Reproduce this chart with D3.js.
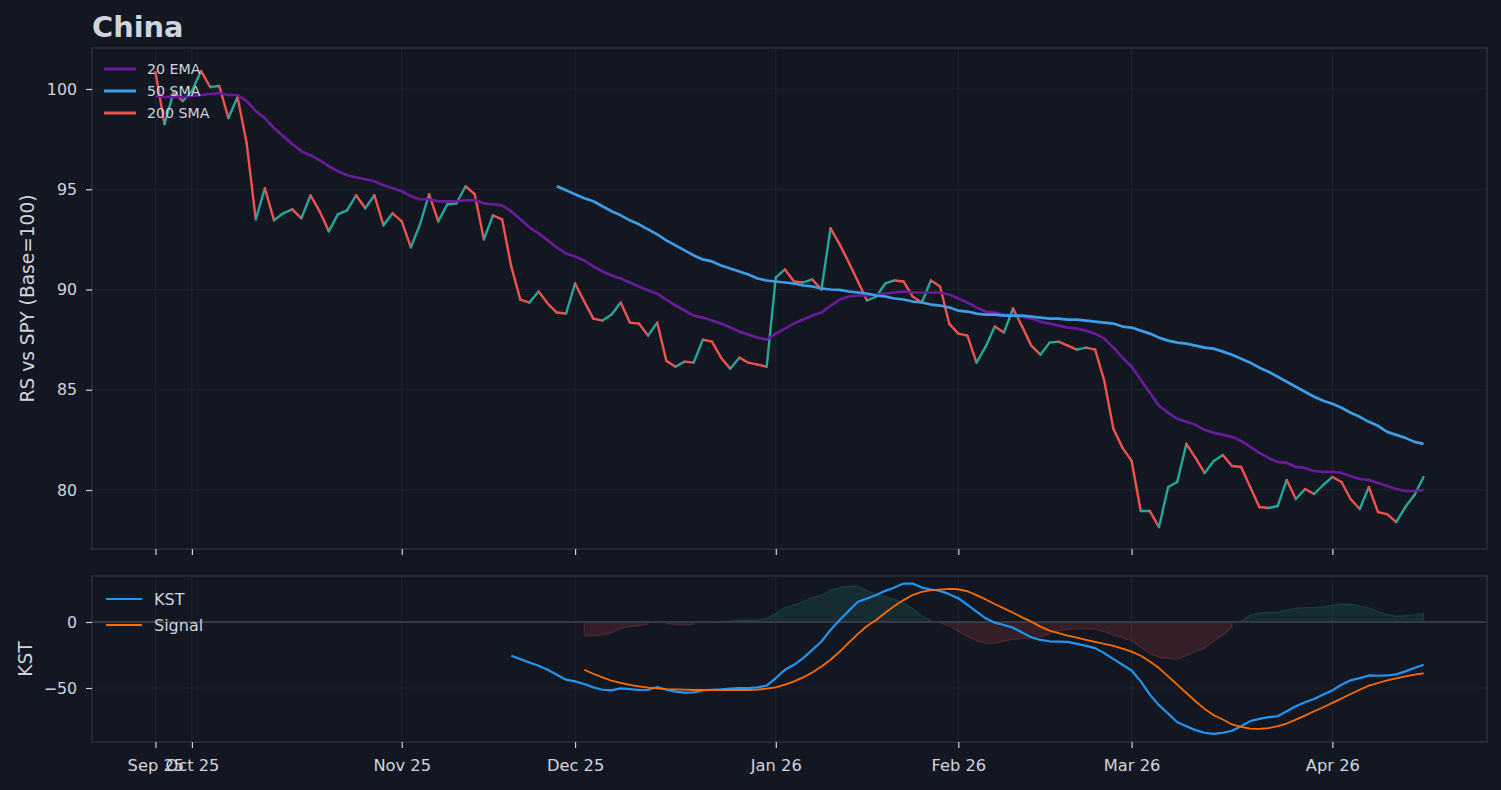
<!DOCTYPE html>
<html><head><meta charset="utf-8">
<script src="https://cdn.jsdelivr.net/npm/d3@7"></script>
<style>html,body{margin:0;padding:0;background:#131722;} svg{display:block;font-family:"DejaVu Sans",sans-serif;}</style>
</head><body><svg id="c" width="1501" height="790"></svg>
<script>
// ---------- data ----------
const tickIndex = [0, 4, 27, 46, 68, 88, 107, 129];
const tickLabels = ["Sep 25", "Oct 25", "Nov 25", "Dec 25", "Jan 26", "Feb 26", "Mar 26", "Apr 26"];
const rsTicks = [80, 85, 90, 95, 100];
const kstTicks = [-50, 0];

const rs = [
100.85,98.25,99.85,99.4,99.9,100.9,100.1,100.15,98.55,99.6,
97.3,93.5,95.05,93.45,93.8,94.0,93.55,94.7,93.9,92.9,
93.75,93.95,94.7,94.05,94.7,93.2,93.8,93.4,92.1,93.25,
94.75,93.4,94.25,94.3,95.15,94.75,92.5,93.7,93.5,91.15,
89.5,89.35,89.9,89.3,88.85,88.8,90.3,89.4,88.55,88.45,
88.75,89.35,88.35,88.3,87.7,88.35,86.45,86.15,86.4,86.35,
87.5,87.4,86.6,86.05,86.6,86.35,86.25,86.15,90.6,91.0,
90.4,90.35,90.5,90.0,93.05,92.25,91.35,90.4,89.45,89.65,
90.3,90.45,90.4,89.65,89.35,90.45,90.15,88.3,87.8,87.7,
86.35,87.15,88.15,87.85,89.05,88.15,87.2,86.75,87.35,87.4,
87.2,87.0,87.1,87.0,85.45,83.05,82.1,81.45,78.95,78.95,
78.15,80.15,80.4,82.3,81.6,80.85,81.45,81.75,81.2,81.15,
80.15,79.15,79.1,79.2,80.5,79.55,80.05,79.8,80.25,80.65,
80.4,79.55,79.05,80.15,78.9,78.8,78.4,79.15,79.75,80.65
];
const ema20 = [
99.65,99.6,99.6,99.6,99.65,99.7,99.75,99.8,99.7,99.7,
99.4,98.9,98.55,98.05,97.65,97.25,96.9,96.7,96.45,96.15,
95.9,95.7,95.6,95.5,95.4,95.2,95.05,94.9,94.65,94.5,
94.5,94.4,94.4,94.4,94.45,94.47,94.3,94.25,94.2,93.9,
93.5,93.1,92.8,92.45,92.1,91.8,91.65,91.45,91.15,90.9,
90.7,90.55,90.35,90.15,89.95,89.8,89.5,89.2,88.95,88.7,
88.6,88.45,88.3,88.1,87.9,87.75,87.6,87.5,87.8,88.05,
88.3,88.5,88.7,88.85,89.2,89.5,89.65,89.7,89.7,89.75,
89.8,89.85,89.9,89.85,89.85,89.85,89.85,89.75,89.55,89.35,
89.1,88.9,88.85,88.75,88.7,88.65,88.55,88.4,88.3,88.2,
88.1,88.05,87.95,87.8,87.55,87.1,86.6,86.15,85.5,84.85,
84.2,83.85,83.55,83.4,83.25,83.0,82.85,82.75,82.65,82.45,
82.15,81.85,81.6,81.4,81.35,81.15,81.1,80.95,80.9,80.9,
80.85,80.7,80.55,80.5,80.35,80.2,80.05,79.95,79.95,80.0
];
const sma50Start = 44;
const sma50 = [
95.15,94.95,94.75,94.55,94.4,94.15,93.9,93.7,93.45,93.25,
93.0,92.75,92.45,92.2,91.95,91.7,91.5,91.4,91.2,91.05,
90.9,90.75,90.55,90.45,90.4,90.35,90.3,90.2,90.15,90.05,
90.0,89.98,89.9,89.85,89.8,89.7,89.65,89.55,89.5,89.4,
89.35,89.25,89.2,89.1,88.95,88.9,88.8,88.75,88.75,88.7,
88.7,88.7,88.65,88.6,88.55,88.55,88.5,88.5,88.45,88.4,
88.35,88.3,88.15,88.1,87.95,87.8,87.6,87.45,87.35,87.3,
87.2,87.1,87.05,86.9,86.75,86.55,86.35,86.1,85.9,85.65,
85.4,85.15,84.9,84.65,84.45,84.3,84.1,83.85,83.65,83.4,
83.2,82.9,82.75,82.6,82.4,82.3
];
const kstStart = 39;
const kst = [
-25.6,-28.1,-30.7,-33.2,-36.2,-40,-43.7,-45,-47,-49.5,
-51.3,-51.8,-50.3,-50.8,-51.5,-51.3,-49.2,-51.3,-52.8,-53.5,
-53.3,-51.8,-51.3,-51.0,-50.5,-50,-50,-49.5,-48.2,-42.5,
-36.2,-32.4,-27.4,-21.1,-14.8,-6.0,1.5,8.5,15.3,17.8,
20.4,23.6,26.1,29.1,29.1,26.1,24.6,23.6,21.1,18,
13,7.8,2.8,-0.5,-2.3,-4.3,-8,-11.6,-13.6,-14.6,
-14.8,-15.1,-16.6,-18.1,-19.8,-23.6,-28.1,-32.4,-36.7,-45,
-55,-63,-69.3,-75.9,-78.9,-81.9,-83.9,-84.7,-83.9,-82.4,
-78.9,-75.1,-73.4,-72.1,-71.4,-67.6,-63.8,-60.8,-58.3,-55,
-51.8,-47.5,-44.2,-42.5,-40.5,-40.7,-40.5,-39.7,-37.4,-34.9,-32.4
];
const signalStart = 47;
const signal = [
-36.2,-39.2,-42,-44.5,-46.2,-47.7,-48.7,-49.7,-50.3,-50.8,
-51,-51.3,-51.5,-51.5,-51.5,-51.5,-51.5,-51.5,-51.5,-51.3,
-50.5,-49.5,-47.5,-45,-42,-38.2,-33.7,-28.6,-22.4,-15.6,
-9,-3,1.5,7,12.1,16.6,20.4,22.9,24.1,24.6,
25.1,24.8,23.3,20.4,17.1,13.6,10.3,7,3.5,0.3,
-3.5,-6.5,-8.5,-10.3,-11.8,-13.6,-15.1,-16.6,-18.1,-20.1,
-22.4,-25.6,-29.9,-34.9,-41.2,-47.5,-53.8,-60,-65.8,-70.6,
-73.9,-77.6,-79.4,-80.7,-80.9,-80.4,-78.9,-76.9,-73.9,-70.9,
-67.6,-64.6,-61.3,-58,-54.5,-51.3,-48.2,-46.2,-44.2,-42.7,
-41.2,-39.9,-38.9
];
const histStart = 47;
const hist = [
-10.6,-10.6,-9.8,-8,-4.8,-3.5,-2.8,-1.5,0.5,-1,
-1.8,-2.3,-1.5,0.2,0.3,0.5,0.8,1.5,1.5,1.5,
2.8,6.5,11,12.8,15.3,18.6,20.4,24.1,26.1,27.1,
27.4,23.6,21.1,19.1,17.1,14.6,10.3,4.5,1,-0.5,
-3,-7,-11,-14.1,-16.3,-16.3,-14.5,-13.2,-12.7,-12.4,
-11,-9,-6.8,-5.5,-5.3,-5.1,-5.5,-7.3,-9.8,-12,
-14.3,-19,-24,-26.8,-27.6,-28.1,-25.5,-22.5,-19.8,-14.5,
-9.8,-4,0.3,5.3,7,7.3,7.5,9,10.5,11,
11,11.6,12.6,13.8,13.6,12.1,10.8,7.8,5.8,4.5,
4.8,5.5,6.5
];
const topLegend = [["20 EMA", "#6a1b9a"], ["50 SMA", "#3d9de6"], ["200 SMA", "#ef5350"]];
const botLegend = [["KST", "#2196f3"], ["Signal", "#ff6d00"]];

// ---------- styling ----------
const BG = "#131722", GRID = "#1f2330", BORDER = "#2a2e39", TXT = "#d1d4dc";
const UP = "#26a69a", DOWN = "#ef5350";
const boxT = {l: 92, r: 1487, t: 48, b: 549};
const boxB = {l: 92, r: 1487, t: 576, b: 742};

const svg = d3.select("#c");
svg.append("rect").attr("width", 1501).attr("height", 790).attr("fill", BG);

const n = rs.length;
const pad = 0.05 * (n - 1);
const x = d3.scaleLinear().domain([-pad, n - 1 + pad]).range([boxT.l, boxT.r]);
const yT = d3.scaleLinear().domain([77.057, 102.045]).range([boxT.b, boxT.t]);
const yB = d3.scaleLinear().domain([-90.9, 34.85]).range([boxB.b, boxB.t]);

const toPts = (arr, start) => arr.map((v, k) => ({i: start + k, v}));

function grid(g, box, yScale, yt) {
  g.selectAll(".vg").data(tickIndex).join("line").attr("class", "vg")
    .attr("x1", d => x(d)).attr("x2", d => x(d)).attr("y1", box.t).attr("y2", box.b)
    .attr("stroke", GRID).attr("stroke-width", 1);
  g.selectAll(".hg").data(yt).join("line").attr("class", "hg")
    .attr("x1", box.l).attr("x2", box.r).attr("y1", d => yScale(d)).attr("y2", d => yScale(d))
    .attr("stroke", GRID).attr("stroke-width", 1);
}

// ---------- top panel ----------
const gT = svg.append("g");
grid(gT.append("g"), boxT, yT, rsTicks);
svg.append("clipPath").attr("id", "clipT").append("rect")
  .attr("x", boxT.l).attr("y", boxT.t).attr("width", boxT.r - boxT.l).attr("height", boxT.b - boxT.t);
const gTd = gT.append("g").attr("clip-path", "url(#clipT)");

const rsPts = toPts(rs, 0);
gTd.selectAll(".seg").data(d3.pairs(rsPts)).join("line").attr("class", "seg")
  .attr("x1", d => x(d[0].i)).attr("y1", d => yT(d[0].v))
  .attr("x2", d => x(d[1].i)).attr("y2", d => yT(d[1].v))
  .attr("stroke", d => d[1].v >= d[0].v ? UP : DOWN)
  .attr("stroke-width", 2.4).attr("stroke-linecap", "round");

const lineT = d3.line().x(d => x(d.i)).y(d => yT(d.v));
gTd.append("path").datum(toPts(ema20, 0)).attr("d", lineT)
  .attr("fill", "none").attr("stroke", topLegend[0][1]).attr("stroke-width", 2.7).attr("stroke-linejoin", "round");
gTd.append("path").datum(toPts(sma50, sma50Start)).attr("d", lineT)
  .attr("fill", "none").attr("stroke", topLegend[1][1]).attr("stroke-width", 2.7).attr("stroke-linejoin", "round");

gT.append("rect").attr("x", boxT.l).attr("y", boxT.t).attr("width", boxT.r - boxT.l).attr("height", boxT.b - boxT.t)
  .attr("fill", "none").attr("stroke", BORDER).attr("stroke-width", 1.6);

const lgT = gT.append("g");
topLegend.forEach((d, k) => {
  const yy = 69 + k * 22;
  lgT.append("line").attr("x1", 104).attr("x2", 136).attr("y1", yy).attr("y2", yy)
    .attr("stroke", d[1]).attr("stroke-width", 3);
  lgT.append("text").attr("x", 147).attr("y", yy).attr("dy", "0.36em")
    .attr("fill", TXT).attr("font-size", 14.2).text(d[0]);
});

const axL = gT.append("g").attr("transform", `translate(${boxT.l},0)`)
  .call(d3.axisLeft(yT).tickValues(rsTicks).tickSize(6).tickPadding(9).tickFormat(d3.format("d")));
const axTB = gT.append("g").attr("transform", `translate(0,${boxT.b})`)
  .call(d3.axisBottom(x).tickValues(tickIndex).tickSize(6).tickFormat(""));

// ---------- bottom panel ----------
const gB = svg.append("g");
grid(gB.append("g"), boxB, yB, kstTicks);
svg.append("clipPath").attr("id", "clipB").append("rect")
  .attr("x", boxB.l).attr("y", boxB.t).attr("width", boxB.r - boxB.l).attr("height", boxB.b - boxB.t);
const gBd = gB.append("g").attr("clip-path", "url(#clipB)");

const histPts = toPts(hist, histStart);
const areaPos = d3.area().defined(d => d.v >= 0).x(d => x(d.i)).y0(yB(0)).y1(d => yB(d.v));
const areaNeg = d3.area().defined(d => d.v < 0).x(d => x(d.i)).y0(yB(0)).y1(d => yB(d.v));
gBd.append("path").datum(histPts).attr("d", areaPos)
  .attr("fill", UP).attr("fill-opacity", 0.15).attr("stroke", UP).attr("stroke-opacity", 0.22).attr("stroke-width", 1.2);
gBd.append("path").datum(histPts).attr("d", areaNeg)
  .attr("fill", DOWN).attr("fill-opacity", 0.15).attr("stroke", DOWN).attr("stroke-opacity", 0.22).attr("stroke-width", 1.2);

gBd.append("line").attr("x1", boxB.l).attr("x2", boxB.r).attr("y1", yB(0)).attr("y2", yB(0))
  .attr("stroke", "#363a45").attr("stroke-width", 1.8);

const lineB = d3.line().x(d => x(d.i)).y(d => yB(d.v));
gBd.append("path").datum(toPts(kst, kstStart)).attr("d", lineB)
  .attr("fill", "none").attr("stroke", botLegend[0][1]).attr("stroke-width", 2.2).attr("stroke-linejoin", "round");
gBd.append("path").datum(toPts(signal, signalStart)).attr("d", lineB)
  .attr("fill", "none").attr("stroke", botLegend[1][1]).attr("stroke-width", 1.8).attr("stroke-linejoin", "round");

gB.append("rect").attr("x", boxB.l).attr("y", boxB.t).attr("width", boxB.r - boxB.l).attr("height", boxB.b - boxB.t)
  .attr("fill", "none").attr("stroke", BORDER).attr("stroke-width", 1.6);

const lgB = gB.append("g");
botLegend.forEach((d, k) => {
  const yy = 599 + k * 26;
  lgB.append("line").attr("x1", 106).attr("x2", 142).attr("y1", yy).attr("y2", yy)
    .attr("stroke", d[1]).attr("stroke-width", 2);
  lgB.append("text").attr("x", 154).attr("y", yy).attr("dy", "0.36em")
    .attr("fill", TXT).attr("font-size", 16).text(d[0]);
});

const axBL = gB.append("g").attr("transform", `translate(${boxB.l},0)`)
  .call(d3.axisLeft(yB).tickValues(kstTicks).tickSize(6).tickPadding(9));
const axBB = gB.append("g").attr("transform", `translate(0,${boxB.b})`)
  .call(d3.axisBottom(x).tickValues(tickIndex).tickSize(6).tickPadding(11).tickFormat((d, k) => tickLabels[k]));

[axL, axTB, axBL, axBB].forEach(a => {
  a.select(".domain").remove();
  a.selectAll(".tick line").attr("stroke", TXT).attr("stroke-width", 1.2);
  a.selectAll(".tick text").attr("fill", TXT).attr("font-family", "DejaVu Sans, sans-serif").attr("font-size", 15.8);
});
axBB.selectAll(".tick text").attr("font-size", 16.3);

svg.append("text").attr("transform", `translate(27,${(boxT.t + boxT.b) / 2}) rotate(-90)`)
  .attr("text-anchor", "middle").attr("dy", "0.35em").attr("fill", TXT).attr("font-size", 18.6)
  .text("RS vs SPY (Base=100)");
svg.append("text").attr("transform", `translate(25,${(boxB.t + boxB.b) / 2}) rotate(-90)`)
  .attr("text-anchor", "middle").attr("dy", "0.35em").attr("fill", TXT).attr("font-size", 18.6)
  .text("KST");
svg.append("text").attr("x", 92).attr("y", 37).attr("fill", TXT).attr("font-size", 28.8)
  .attr("font-weight", "bold").text("China");
</script></body></html>
